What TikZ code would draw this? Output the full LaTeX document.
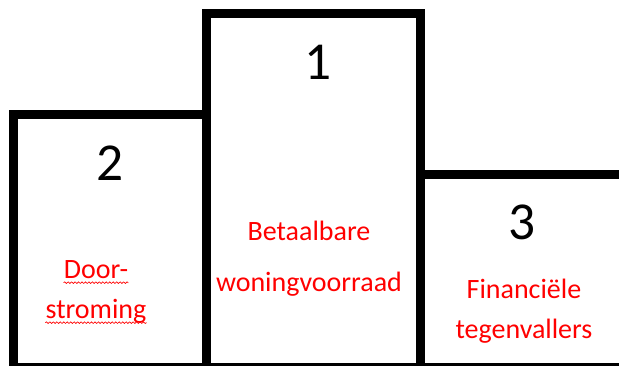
\documentclass[tikz,border=0pt]{standalone}
\usepackage{fontspec}
\setmainfont{Carlito}
\usetikzlibrary{decorations.pathmorphing}

\tikzset{
  podium/.style={line width=6.75pt, line join=miter},
  rank/.style={font=\fontsize{40}{48}\selectfont, text=black},
  label/.style={font=\fontsize{21}{25}\selectfont, text=red, inner sep=0pt, anchor=base},
  spell/.style={red, line width=0.5pt,
    decorate, decoration={snake, segment length=2.6pt, amplitude=0.6pt}}
}

\begin{document}
\begin{tikzpicture}[x=0.75pt, y=-0.75pt]
  \useasboundingbox (0,0) rectangle (619,365);

  %% treden van het podium
  \draw[podium] (13.5,368) -- (13.5,114.5) -- (206,114.5) -- (206,368);
  \draw[podium] (206,368) -- (206,13.5) -- (420.5,13.5) -- (420.5,368);
  \draw[podium] (420.5,174.5) -- (625,174.5);
  \draw[podium] (9,367) -- (625,367);

  %% plaatsen
  \node[rank] (rank1) at (318,62) {1};
  \node[rank] (rank2) at (110,163) {2};
  \node[rank] (rank3) at (522,222) {3};

  %% thema's
  \node[label] (betaal) at (309,240) {Betaalbare};
  \node[label] (woning) at (309,291) {woningvoorraad};
  \node[label] (door)   at (96,278)  {Door-};
  \node[label] (strom)  at (96,318)  {stroming};
  \node[label] (financ) at (524,298) {Financiële};
  \node[label] (tegen)  at (524,338) {tegenvallers};

  %% rode kringellijnen
  \draw[spell] ([yshift=-3.5pt]door.base west) -- ([yshift=-3.5pt]door.base east);
  \draw[spell] ([yshift=-3.5pt]strom.base west) -- ([yshift=-3.5pt]strom.base east);
\end{tikzpicture}
\end{document}
